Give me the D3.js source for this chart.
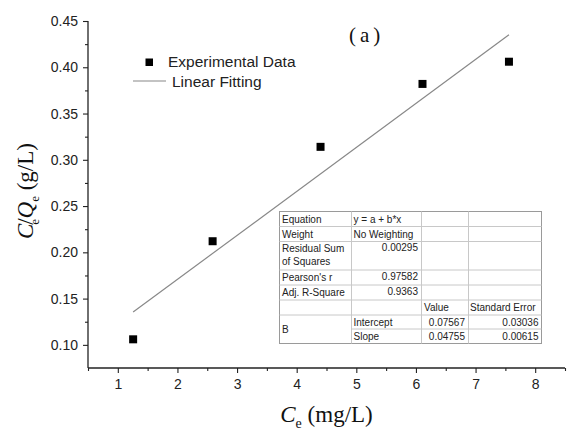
<!DOCTYPE html>
<html>
<head>
<meta charset="utf-8">
<script src="https://cdn.jsdelivr.net/npm/d3@7"></script>
<style>
  body { margin: 0; background: #fff; }
  svg { display: block; }
</style>
</head>
<body>
<svg id="chart" width="567" height="429"></svg>
<script>
// Experimental points: equilibrium concentration vs. Ce/Qe
const ceValues = [1.257, 2.59, 4.40, 6.11, 7.56];
const ratioValues = [0.106, 0.212, 0.314, 0.382, 0.406];

// Linear fit parameters (y = a + b*x)
const fitIntercept = 0.07567;
const fitSlope = 0.04755;

// Axis ticks
const xTicks = [1, 2, 3, 4, 5, 6, 7, 8];
const xMinorTicks = [0.5, 1.5, 2.5, 3.5, 4.5, 5.5, 6.5, 7.5, 8.5];
const yTicks = [0.10, 0.15, 0.20, 0.25, 0.30, 0.35, 0.40, 0.45];
const yMinorTicks = [0.125, 0.175, 0.225, 0.275, 0.325, 0.375, 0.425];

// Fit statistics table
const statLabels = ["Equation", "Weight", ["Residual Sum", "of Squares"], "Pearson's r", "Adj. R-Square"];
const statValues = ["y = a + b*x", "No Weighting", "0.00295", "0.97582", "0.9363"];
const paramHeaders = ["Value", "Standard Error"];
const paramNames = ["Intercept", "Slope"];
const paramValues = ["0.07567", "0.04755"];
const paramErrors = ["0.03036", "0.00615"];
const paramGroup = "B";

const legendLabels = ["Experimental Data", "Linear Fitting"];
const panelLabel = "(a)";

const svg = d3.select("#chart");
const plot = { left: 88, right: 565, top: 21, bottom: 368 };

const x = d3.scaleLinear().domain([0.5, 8.5]).range([plot.left, plot.right]);
const y = d3.scaleLinear().domain([0.075, 0.45]).range([plot.bottom, plot.top]);

const sans = "'Liberation Sans', Arial, sans-serif";
const serif = "'Liberation Serif', 'Times New Roman', serif";
const axisColor = "#222";

// ---- Axes ----
const xAxis = svg.append("g").attr("transform", `translate(0,${plot.bottom})`)
  .call(d3.axisBottom(x).tickValues(xTicks).tickFormat(d3.format("d")).tickSize(5).tickPadding(6));
const xMinor = svg.append("g").attr("transform", `translate(0,${plot.bottom})`)
  .call(d3.axisBottom(x).tickValues(xMinorTicks).tickFormat("").tickSize(3));

const yAxis = svg.append("g").attr("transform", `translate(${plot.left},0)`)
  .call(d3.axisLeft(y).tickValues(yTicks).tickFormat(d3.format(".2f")).tickSize(5).tickPadding(5));
const yMinor = svg.append("g").attr("transform", `translate(${plot.left},0)`)
  .call(d3.axisLeft(y).tickValues(yMinorTicks).tickFormat("").tickSize(3));

[xAxis, xMinor, yAxis, yMinor].forEach(g => {
  g.selectAll(".domain").attr("stroke", axisColor).attr("stroke-width", 1.3);
  g.selectAll(".tick line").attr("stroke", axisColor).attr("stroke-width", 1.1);
  g.selectAll(".tick text").attr("font-family", sans).attr("font-size", 14).attr("fill", "#222");
});
// keep the axes as plain lines (no end caps)
xAxis.select(".domain").attr("d", `M${plot.left},0H${plot.right}`);
xMinor.select(".domain").remove();
yAxis.select(".domain").attr("d", `M0,${plot.bottom}V${plot.top}`);
yMinor.select(".domain").remove();

// ---- Linear fit line ----
const fitX = d3.extent(ceValues);
svg.append("line")
  .attr("x1", x(fitX[0])).attr("y1", y(fitIntercept + fitSlope * fitX[0]))
  .attr("x2", x(fitX[1])).attr("y2", y(fitIntercept + fitSlope * fitX[1]))
  .attr("stroke", "#888").attr("stroke-width", 1.2);

// ---- Data points ----
const sq = 8;
svg.append("g").selectAll("rect")
  .data(ceValues.map((c, i) => [c, ratioValues[i]]))
  .join("rect")
  .attr("x", d => x(d[0]) - sq / 2).attr("y", d => y(d[1]) - sq / 2)
  .attr("width", sq).attr("height", sq).attr("fill", "#000");

// ---- Legend ----
const legend = svg.append("g");
legend.append("rect").attr("x", 145.5).attr("y", 58.5).attr("width", 7.5).attr("height", 7.5).attr("fill", "#000");
legend.append("text").attr("x", 168).attr("y", 66.5).text(legendLabels[0])
  .attr("font-family", sans).attr("font-size", 15.5).attr("fill", "#222");
legend.append("line").attr("x1", 133).attr("x2", 166).attr("y1", 81).attr("y2", 81)
  .attr("stroke", "#888").attr("stroke-width", 1.2);
legend.append("text").attr("x", 172).attr("y", 86.5).text(legendLabels[1])
  .attr("font-family", sans).attr("font-size", 15.5).attr("fill", "#222");

// ---- Panel label ----
svg.append("text").attr("x", 349).attr("y", 42).text(panelLabel)
  .attr("font-family", serif).attr("font-size", 21).attr("letter-spacing", 4).attr("fill", "#111");

// ---- Axis titles ----
const xTitle = svg.append("text").attr("x", 326.5).attr("y", 421.5).attr("text-anchor", "middle")
  .attr("font-family", serif).attr("font-size", 23).attr("fill", "#111");
xTitle.append("tspan").attr("font-style", "italic").text("C");
xTitle.append("tspan").attr("font-size", 14).attr("dy", 6).text("e");
xTitle.append("tspan").attr("dy", -6).text(" (mg/L)");

const yTitle = svg.append("text").attr("transform", "translate(33,191) rotate(-90)").attr("text-anchor", "middle")
  .attr("font-family", serif).attr("font-size", 23).attr("fill", "#111");
yTitle.append("tspan").attr("font-style", "italic").text("C");
yTitle.append("tspan").attr("font-size", 13).attr("dy", 6).attr("dx", -1).text("e");
yTitle.append("tspan").attr("dy", -6).attr("dx", -6).text("/");
yTitle.append("tspan").attr("font-style", "italic").text("Q");
yTitle.append("tspan").attr("font-size", 13).attr("dy", 6).text("e");
yTitle.append("tspan").attr("dy", -6).text(" (g/L)");

// ---- Statistics table ----
const colEdges = [279.5, 351.5, 421.5, 468.5, 541.5];
const rowEdges = [211.5, 226.5, 241.5, 270, 285, 300, 315, 329, 343.5];
const table = svg.append("g").attr("font-family", sans).attr("font-size", 10).attr("fill", "#222");
table.append("rect")
  .attr("x", colEdges[0]).attr("y", rowEdges[0])
  .attr("width", colEdges[4] - colEdges[0]).attr("height", rowEdges[8] - rowEdges[0])
  .attr("fill", "#fff").attr("stroke", "#9a9a9a").attr("stroke-width", 1);

const grid = table.append("g").attr("stroke", "#c8c8c8").attr("stroke-width", 1);
colEdges.slice(1, 4).forEach(cx => grid.append("line")
  .attr("x1", cx).attr("x2", cx).attr("y1", rowEdges[0]).attr("y2", rowEdges[8]));
rowEdges.slice(1, 7).forEach(ry => grid.append("line")
  .attr("x1", colEdges[0]).attr("x2", colEdges[4]).attr("y1", ry).attr("y2", ry));
grid.append("line").attr("x1", colEdges[1]).attr("x2", colEdges[4])
  .attr("y1", rowEdges[7]).attr("y2", rowEdges[7]);

const cellText = (tx, ty, s, anchor) => table.append("text")
  .attr("x", tx).attr("y", ty).attr("text-anchor", anchor || "start").text(s);

statLabels.forEach((lab, i) => {
  const top = rowEdges[i];
  if (Array.isArray(lab)) {
    cellText(colEdges[0] + 2.5, top + 10.5, lab[0]);
    cellText(colEdges[2] - 3.5, top + 9, statValues[i], "end");
    cellText(colEdges[0] + 2.5, top + 23, lab[1]);
  } else {
    cellText(colEdges[0] + 2.5, top + 11, lab);
    const isNumber = !isNaN(+statValues[i]);
    if (isNumber) cellText(colEdges[2] - 3.5, top + 10, statValues[i], "end");
    else cellText(colEdges[1] + 2, top + 11, statValues[i]);
  }
});
cellText(colEdges[2] + 2.5, rowEdges[5] + 11, paramHeaders[0]);
cellText(colEdges[3] + 1.5, rowEdges[5] + 11, paramHeaders[1]);
cellText(colEdges[0] + 2.5, (rowEdges[6] + rowEdges[8]) / 2 + 3.8, paramGroup);
paramNames.forEach((nm, i) => {
  const top = rowEdges[6 + i];
  cellText(colEdges[1] + 2, top + 10.5, nm);
  cellText(colEdges[3] - 3.5, top + 10.5, paramValues[i], "end");
  cellText(colEdges[4] - 3, top + 10.5, paramErrors[i], "end");
});
</script>
</body>
</html>
